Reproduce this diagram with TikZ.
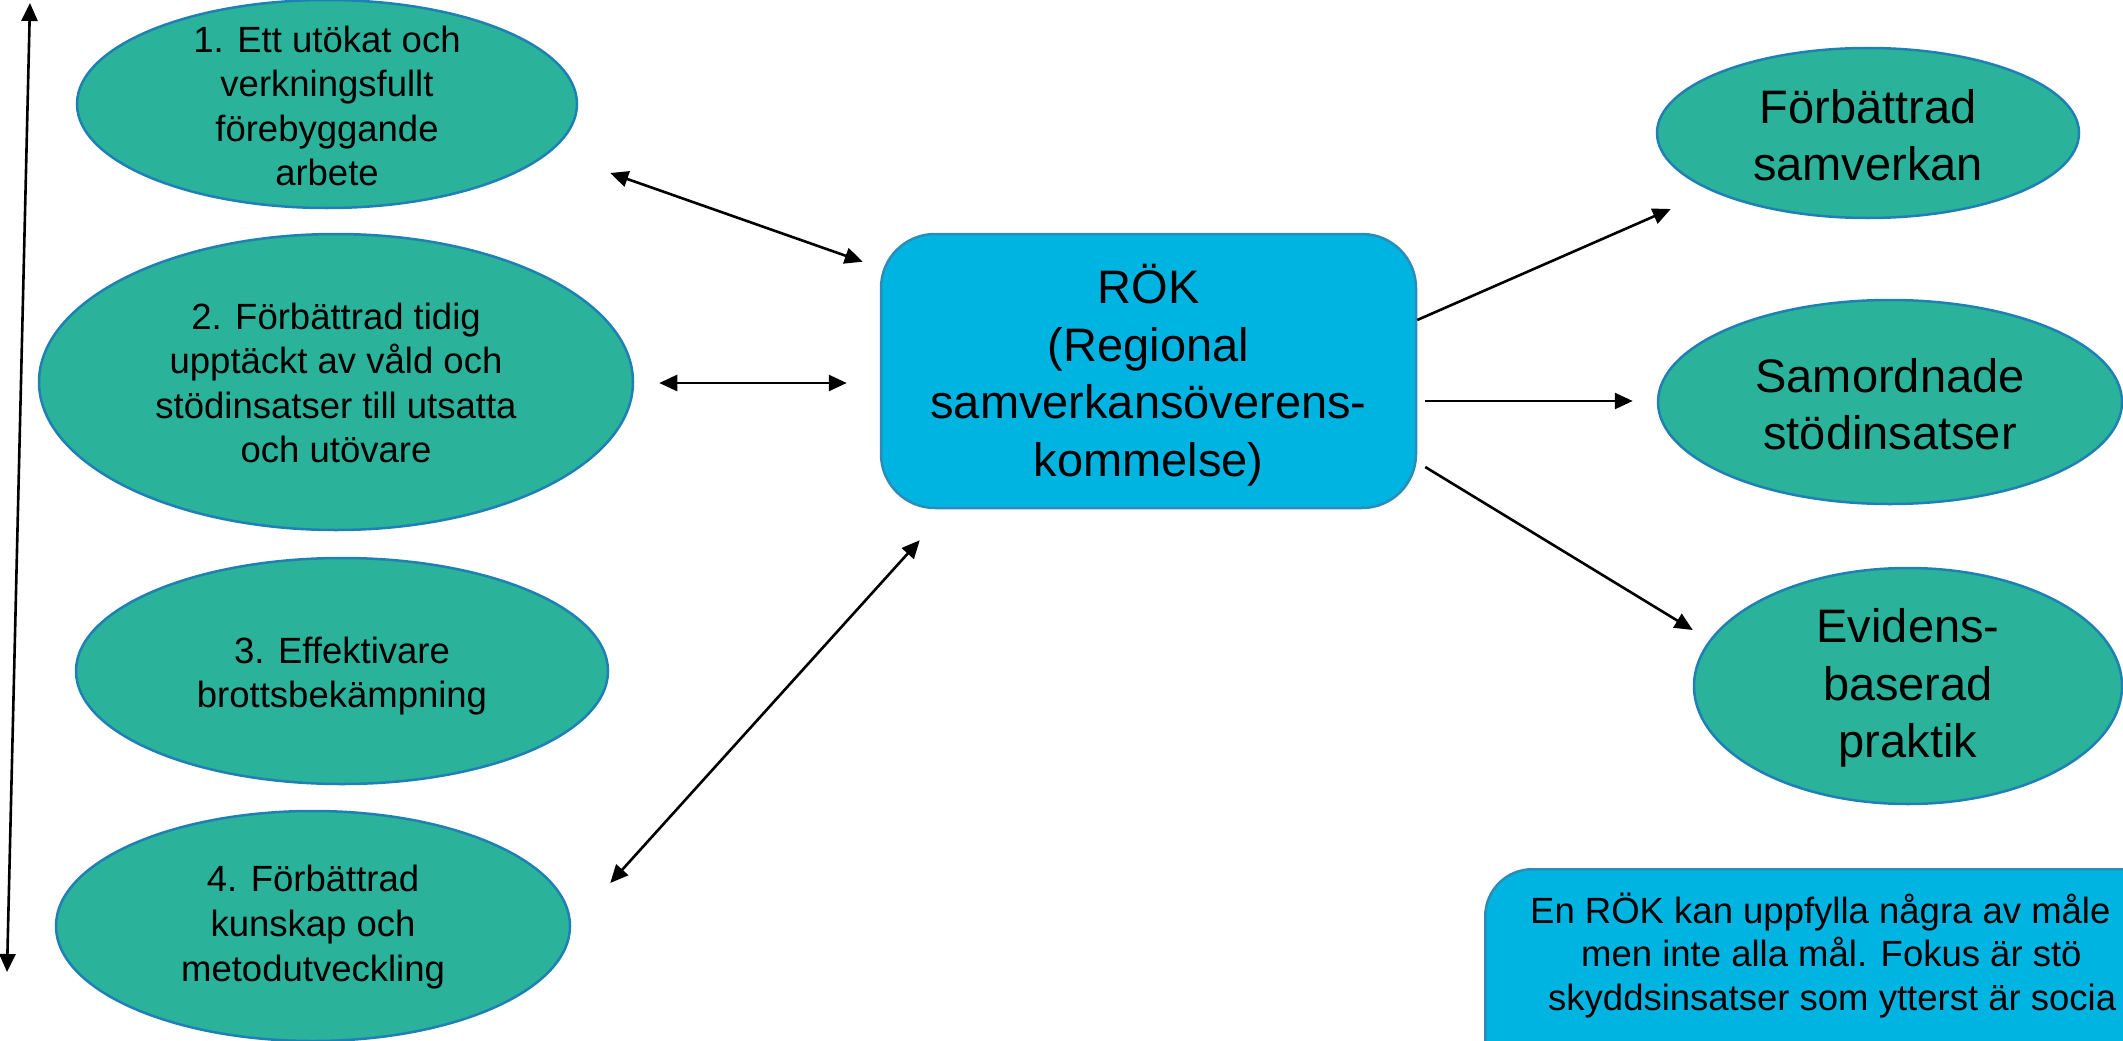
\documentclass[tikz,border=0pt]{standalone}
\usepackage{fontspec}
\setmainfont{Liberation Sans}
\usetikzlibrary{shapes.geometric,arrows.meta,calc}
\definecolor{tealfill}{HTML}{2AB29A}
\definecolor{edgeblue}{HTML}{1F80B4}
\definecolor{cyanfill}{HTML}{00B4E2}
\definecolor{boxedge}{HTML}{2A8CB8}
\begin{document}
\begin{tikzpicture}[x=1pt,y=-1pt,
  goal/.style={ellipse, draw=edgeblue, fill=tealfill, line width=2.5pt, inner sep=0pt},
  smalltxt/.style={font=\fontsize{36.5}{44.6}\selectfont, align=center, inner sep=0pt},
  bigtxt/.style={font=\fontsize{47}{57.5}\selectfont, align=center, inner sep=0pt},
  notetxt/.style={font=\fontsize{36.5}{44.6}\selectfont, inner sep=0pt, anchor=base west},
  conn/.style={line width=2.6pt, -{Triangle[length=18pt,width=16pt]}},
  bconn/.style={line width=2.6pt, {Triangle[length=18pt,width=16pt]}-{Triangle[length=18pt,width=16pt]}},
  rokbox/.style={rectangle, rounded corners=54pt, draw=boxedge, fill=cyanfill, line width=2.5pt, inner sep=0pt}
]
\useasboundingbox (0,0) rectangle (2123,1041);

% left goals
\node[goal, minimum width=500pt, minimum height=208pt] (e1) at (327,104) {};
\node[smalltxt] (t1) at ($(e1.center)+(0,2)$) {1. Ett utökat och\\verkningsfullt\\förebyggande\\arbete};

\node[goal, minimum width=594pt, minimum height=296pt] (e2) at (336,382) {};
\node[smalltxt] (t2) at ($(e2.center)+(0,1)$) {2. Förbättrad tidig\\upptäckt av våld och\\stödinsatser till utsatta\\och utövare};

\node[goal, minimum width=532pt, minimum height=226pt] (e3) at (342,671) {};
\node[smalltxt] (t3) at ($(e3.center)+(0,5)$) {3. Effektivare\\brottsbekämpning};

\node[goal, minimum width=514pt, minimum height=230pt] (e4) at (313,926) {};
\node[smalltxt] (t4) at ($(e4.center)+(0,1)$) {4. Förbättrad\\kunskap och\\metodutveckling};

% central box
\node[rokbox, minimum width=535pt, minimum height=274pt] (rok) at (1148.5,371) {};
\node[bigtxt] (trok) at ($(rok.center)+(0,4)$) {RÖK\\(Regional\\samverkansöverens-\\kommelse)};

% right outcomes
\node[goal, minimum width=422pt, minimum height=170pt] (f1) at (1868,133) {};
\node[bigtxt] (tf1) at ($(f1.center)+(0,2)$) {Förbättrad\\samverkan};

\node[goal, minimum width=464pt, minimum height=204pt] (f2) at (1890,402) {};
\node[bigtxt] (tf2) at ($(f2.center)+(0,2)$) {Samordnade\\stödinsatser};

\node[goal, minimum width=428pt, minimum height=236pt] (f3) at (1908,686) {};
\node[bigtxt] (tf3) at ($(f3.center)+(0,2)$) {Evidens-\\baserad\\praktik};

% note box (cut by the picture edge)
\begin{scope}
  \clip (0,0) rectangle (2123,1041);
  \node[rokbox, rounded corners=47pt, anchor=north west, minimum width=800pt, minimum height=400pt] (note) at (1484,868) {};
  \node[notetxt] (n1) at (1530,923) {En RÖK kan uppfylla några av måle};
  \node[notetxt] (n2) at (1581,966) {men inte alla mål. Fokus är stö};
  \node[notetxt] (n3) at (1548,1010) {skyddsinsatser som ytterst är socia};
\end{scope}

% left vertical double arrow
\coordinate (ltop) at (30,3);
\coordinate (lbot) at (7,972);
\draw[bconn] (lbot) -- (ltop);

% connectors left <-> RÖK
\draw[bconn] ($(e1.east)+(32,69)$) -- ($(rok.north west)+(-17,29)$);
\draw[bconn] ($(e2.east)+(25,1)$) -- ($(rok.west)+(-33,12)$);
\draw[bconn] ($(e4.east)+(39,-43)$) -- ($(rok.south west)+(40,31)$);

% connectors RÖK -> outcomes
\draw[conn] ($(rok.east)+(0,-51)$) -- ($(f1.west)+(15,76)$);
\draw[conn] ($(rok.east)+(8,30)$) -- ($(f2.west)+(-24,-1)$);
\draw[conn] ($(rok.east)+(8,96)$) -- ($(f3.west)+(0,-56)$);
\end{tikzpicture}
\end{document}
